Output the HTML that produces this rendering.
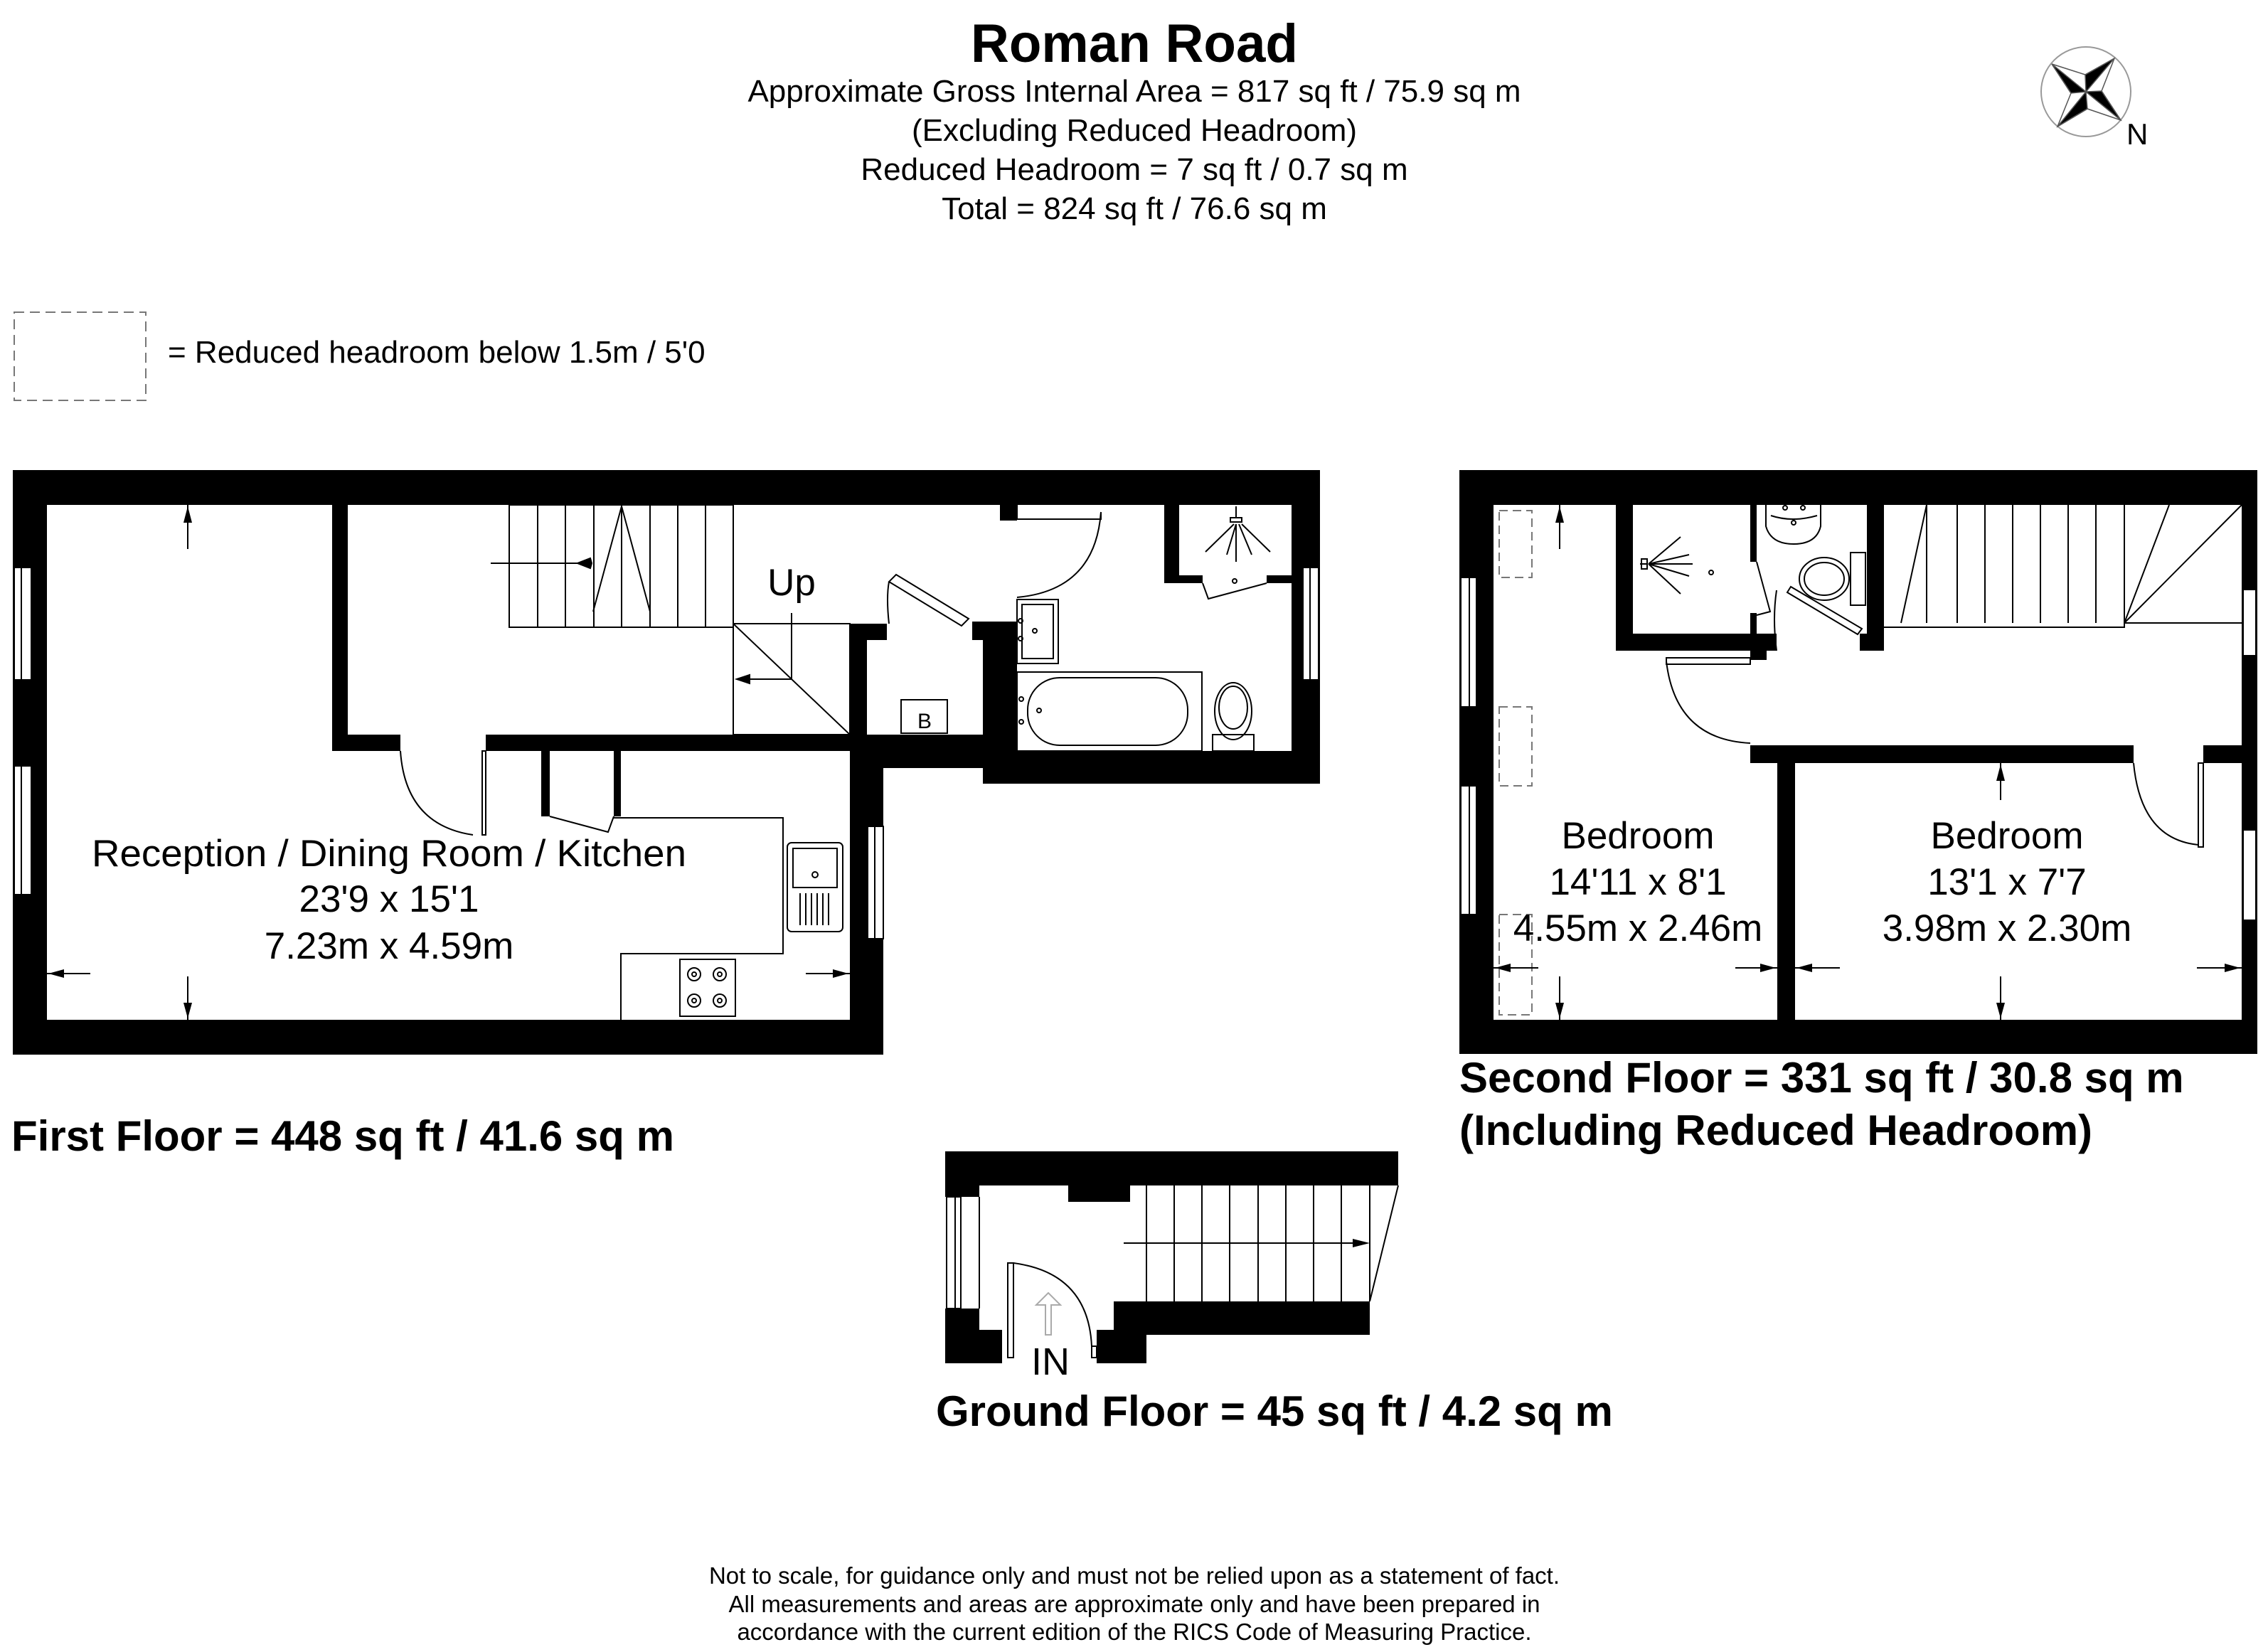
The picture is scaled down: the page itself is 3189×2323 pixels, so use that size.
<!DOCTYPE html>
<html><head><meta charset="utf-8"><style>html,body{margin:0;padding:0;background:#fff}svg{display:block}</style></head>
<body>
<svg xmlns="http://www.w3.org/2000/svg" width="3189" height="2323" viewBox="0 0 3189 2323" font-family="Liberation Sans, Arial, sans-serif">
<rect width="3189" height="2323" fill="#fff"/>
<!-- Header -->
<text x="1595" y="87" font-size="76" font-weight="bold" text-anchor="middle" textLength="460" lengthAdjust="spacingAndGlyphs">Roman Road</text>
<g font-size="44" text-anchor="middle">
<text x="1595" y="143">Approximate Gross Internal Area = 817 sq ft / 75.9 sq m</text>
<text x="1595" y="198">(Excluding Reduced Headroom)</text>
<text x="1595" y="253">Reduced Headroom = 7 sq ft / 0.7 sq m</text>
<text x="1595" y="308">Total = 824 sq ft / 76.6 sq m</text>
</g>
<!-- compass -->
<circle cx="2933" cy="129" r="63" fill="none" stroke="#999" stroke-width="2"/>
<g stroke="#555" stroke-width="1.5" fill="#000">
<polygon points="2885,90 2933,129 2912,131"/>
<polygon points="2973,82 2933,129 2932,105"/>
<polygon points="2982,169 2933,129 2955,128"/>
<polygon points="2893,178 2933,129 2935,153"/>
<polyline fill="none" points="2885,90 2932,105 2973,82 2955,128 2982,169 2935,153 2893,178 2912,131 2885,90"/>
</g>
<text x="2990" y="203" font-size="42">N</text>
<!-- legend -->
<rect x="20" y="439" width="185" height="124" fill="none" stroke="#777" stroke-width="2" stroke-dasharray="14,8"/>
<text x="236" y="510" font-size="44">= Reduced headroom below 1.5m / 5'0</text>

<!-- FIRST FLOOR -->
<g fill="#000">
<rect x="18" y="661" width="1838" height="49"/>
<rect x="18" y="661" width="48" height="822"/>
<rect x="18" y="1434" width="1224" height="49"/>
<rect x="1195" y="1056" width="47" height="427"/>
<rect x="1816" y="661" width="40" height="441"/>
<rect x="1382" y="1056" width="474" height="46"/>
<rect x="1195" y="1056" width="240" height="24"/>
<rect x="467" y="1033" width="96" height="23"/>
<rect x="683" y="1033" width="747" height="23"/>
<rect x="467" y="710" width="22" height="346"/>
<rect x="1195" y="877" width="24" height="156"/>
<rect x="1195" y="877" width="52" height="23"/>
<rect x="1382" y="900" width="48" height="156"/>
<rect x="1367" y="874" width="63" height="26"/>
<rect x="1406" y="710" width="24" height="22"/>
<rect x="1637" y="710" width="21" height="110"/>
<rect x="1637" y="809" width="54" height="11"/>
<rect x="1781" y="809" width="35" height="11"/>
<rect x="761" y="1056" width="12" height="92"/>
<rect x="863" y="1056" width="10" height="92"/>
</g>
<g fill="#fff" stroke="#000" stroke-width="2">
<rect x="20" y="798" width="24" height="158"/>
<rect x="20" y="1077" width="24" height="181"/>
<rect x="1220" y="1162" width="22" height="158"/>
<rect x="1832" y="798" width="22" height="158"/>
</g>
<g stroke="#000" stroke-width="2" fill="none">
<line x1="30" y1="798" x2="30" y2="956"/><line x1="30" y1="1077" x2="30" y2="1258"/>
<line x1="1230" y1="1162" x2="1230" y2="1320"/><line x1="1842" y1="798" x2="1842" y2="956"/>
<rect x="716" y="710" width="315" height="172"/>
<path d="M756 710V882M795 710V882M835 710V882M874 710V882M914 710V882M953 710V882M992 710V882"/>
<path d="M834 860L874 712L914 860"/>
<path d="M690 792H830"/><polygon points="830,785 832,792 830,799 812,792" fill="#000"/>
<rect x="1031" y="877" width="164" height="156"/>
<line x1="1031" y1="877" x2="1195" y2="1033"/>
<path d="M1113 862V955H1040"/><polygon points="1036,955 1054,949 1054,961" fill="#000"/>
<path d="M563 1056Q570 1160 665 1174"/><rect x="678" y="1056" width="5" height="118"/>
<path d="M773 1148L855 1170L863 1148"/>
<path d="M863 1150H1101V1341H873V1434"/>
<rect x="1107" y="1185" width="78" height="125" rx="6"/>
<rect x="1115" y="1193" width="62" height="55"/>
<circle cx="1146" cy="1230" r="4"/>
<path d="M1125 1256v45M1133 1256v45M1141 1256v45M1149 1256v45M1157 1256v45M1165 1256v45"/>
<rect x="956" y="1349" width="78" height="80"/>
<circle cx="976" cy="1370" r="9"/><circle cx="1012" cy="1370" r="9"/><circle cx="976" cy="1407" r="9"/><circle cx="1012" cy="1407" r="9"/>
<circle cx="976" cy="1370" r="3"/><circle cx="1012" cy="1370" r="3"/><circle cx="976" cy="1407" r="3"/><circle cx="1012" cy="1407" r="3"/>
<path d="M1250 818L1352 880L1362 870L1260 808Z"/>
<path d="M1250 818Q1246 840 1250 877"/>
<path d="M1430 710V730H1548V720"/>
<path d="M1548 720Q1540 830 1430 840"/>
<rect x="1430" y="843" width="58" height="90"/><rect x="1437" y="850" width="44" height="76"/>
<circle cx="1435" cy="873" r="3"/><circle cx="1455" cy="887" r="3"/><circle cx="1435" cy="898" r="3"/>
<rect x="1430" y="945" width="260" height="111"/>
<rect x="1445" y="953" width="225" height="95" rx="45"/>
<circle cx="1436" cy="983" r="3"/><circle cx="1461" cy="999" r="3"/><circle cx="1436" cy="1015" r="3"/>
<ellipse cx="1734" cy="1000" rx="26" ry="40"/><ellipse cx="1734" cy="995" rx="20" ry="30"/>
<rect x="1705" y="1033" width="58" height="23"/>
<path d="M1691 820L1699 842L1781 820"/>
<path d="M1738 712v16M1730 728h16v6h-16z"/>
<path d="M1735 737L1695 776M1738 737L1725 780M1742 737L1760 780M1746 737L1786 776M1738 737V790"/>
<circle cx="1736" cy="817" r="3"/>
<rect x="1267" y="984" width="65" height="47"/>
<path d="M264 710V772M264 1373V1434M66 1369H127M1133 1369H1195"/>
</g>
<g fill="#000">
<polygon points="264,712 258,735 270,735"/><polygon points="264,1432 258,1410 270,1410"/>
<polygon points="68,1369 90,1363 90,1375"/><polygon points="1193,1369 1171,1363 1171,1375"/>
</g>
<text x="1300" y="1024" font-size="30" text-anchor="middle">B</text>
<text x="1113" y="837" font-size="53" text-anchor="middle">Up</text>
<g font-size="53" text-anchor="middle">
<text x="547" y="1218" textLength="836" lengthAdjust="spacingAndGlyphs">Reception / Dining Room / Kitchen</text>
<text x="547" y="1282">23'9 x 15'1</text>
<text x="547" y="1348">7.23m x 4.59m</text>
</g>
<text x="16" y="1618" font-size="60" font-weight="bold">First Floor = 448 sq ft / 41.6 sq m</text>

<!-- SECOND FLOOR -->
<g fill="#000">
<rect x="2052" y="661" width="1122" height="49"/>
<rect x="2052" y="661" width="48" height="821"/>
<rect x="2052" y="1434" width="1122" height="48"/>
<rect x="3152" y="661" width="22" height="821"/>
<rect x="2272" y="710" width="24" height="205"/>
<rect x="2272" y="891" width="226" height="24"/>
<rect x="2461" y="710" width="9" height="80"/>
<rect x="2461" y="862" width="9" height="30"/>
<rect x="2625" y="710" width="24" height="205"/>
<rect x="2615" y="891" width="34" height="24"/>
<rect x="2461" y="915" width="23" height="13"/>
<rect x="2461" y="1048" width="539" height="25"/>
<rect x="3098" y="1048" width="54" height="25"/>
<rect x="2499" y="1073" width="25" height="361"/>
</g>
<g fill="#fff" stroke="#000" stroke-width="2">
<rect x="2054" y="812" width="22" height="182"/><rect x="2054" y="1105" width="22" height="181"/>
<rect x="3154" y="829" width="18" height="93"/><rect x="3154" y="1167" width="18" height="127"/>
</g>
<g stroke="#000" stroke-width="2" fill="none">
<line x1="2066" y1="812" x2="2066" y2="994"/><line x1="2066" y1="1105" x2="2066" y2="1286"/>
<g stroke="#777" stroke-dasharray="12,7">
<rect x="2108" y="718" width="46" height="94"/>
<rect x="2108" y="994" width="46" height="111"/>
<rect x="2108" y="1286" width="46" height="141"/>
</g>
<path d="M2649 882H2987V876H3152"/>
<path d="M2709 710L2673 876M2709 710V876M2752 710V876M2791 710V876M2830 710V876M2869 710V876M2908 710V876M2947 710V876M2987 710V876M2987 876L3050 710M2987 876L3152 710"/>
<path d="M2306 793h10M2308 786h8v14h-8z"/>
<path d="M2318 793L2363 755M2318 793L2375 780M2318 793H2380M2318 793L2375 810M2318 793L2363 835"/>
<circle cx="2406" cy="805" r="3"/>
<path d="M2483 710V740Q2490 765 2522 765Q2554 765 2560 740V710"/>
<path d="M2490 725Q2520 735 2555 725"/>
<circle cx="2510" cy="714" r="3"/><circle cx="2535" cy="714" r="3"/><circle cx="2522" cy="735" r="3"/>
<ellipse cx="2565" cy="814" rx="35" ry="30"/><ellipse cx="2565" cy="814" rx="28" ry="23"/>
<rect x="2602" y="777" width="21" height="74"/>
<path d="M2470 790L2489 860L2470 865"/>
<path d="M2513 833L2612 892L2618 884L2518 825Z"/>
<path d="M2498 830Q2492 870 2498 915"/>
<rect x="2343" y="925" width="118" height="9"/>
<path d="M2343 930Q2356 1040 2461 1045"/>
<rect x="3091" y="1073" width="7" height="118"/>
<path d="M3000 1073Q3010 1180 3091 1188"/>
<path d="M2193 710V772M2193 1373V1434M2100 1361H2163M2440 1361H2499M2524 1361H2587M3089 1361H3152M2813 1073V1125M2813 1373V1434"/>
</g>
<g fill="#000">
<polygon points="2193,712 2187,735 2199,735"/><polygon points="2193,1432 2187,1410 2199,1410"/>
<polygon points="2102,1361 2124,1355 2124,1367"/><polygon points="2497,1361 2475,1355 2475,1367"/>
<polygon points="2526,1361 2548,1355 2548,1367"/><polygon points="3150,1361 3128,1355 3128,1367"/>
<polygon points="2813,1075 2807,1098 2819,1098"/><polygon points="2813,1432 2807,1410 2819,1410"/>
</g>
<g font-size="53" text-anchor="middle">
<text x="2303" y="1193">Bedroom</text><text x="2303" y="1258">14'11 x 8'1</text><text x="2303" y="1323">4.55m x 2.46m</text>
<text x="2822" y="1193">Bedroom</text><text x="2822" y="1258">13'1 x 7'7</text><text x="2822" y="1323">3.98m x 2.30m</text>
</g>
<g font-size="60" font-weight="bold">
<text x="2052" y="1536">Second Floor = 331 sq ft / 30.8 sq m</text>
<text x="2052" y="1610">(Including Reduced Headroom)</text>
</g>

<!-- GROUND FLOOR -->
<g fill="#000">
<rect x="1329" y="1619" width="637" height="48"/>
<rect x="1329" y="1619" width="48" height="64"/>
<rect x="1329" y="1840" width="48" height="77"/>
<rect x="1329" y="1870" width="80" height="47"/>
<rect x="1542" y="1870" width="70" height="47"/>
<rect x="1566" y="1830" width="360" height="47"/>
<rect x="1502" y="1667" width="87" height="23"/>
</g>
<g stroke="#000" stroke-width="2" fill="none">
<rect x="1331" y="1683" width="20" height="157" fill="#fff"/>
<line x1="1343" y1="1683" x2="1343" y2="1840"/>
<path d="M1377 1683V1840"/>
<path d="M1612 1667V1830M1651 1667V1830M1690 1667V1830M1729 1667V1830M1769 1667V1830M1808 1667V1830M1847 1667V1830M1886 1667V1830M1926 1667V1830"/>
<path d="M1966 1667L1926 1830"/>
<path d="M1580 1748H1920"/>
<rect x="1417" y="1776" width="8" height="133"/>
<path d="M1425 1776Q1530 1790 1535 1893"/>
<rect x="1535" y="1893" width="7" height="16"/>
</g>
<polygon points="1926,1748 1902,1742 1902,1754" fill="#000"/>
<path d="M1478 1877V1835H1491L1474 1818L1457 1835H1470V1877Z" fill="none" stroke="#aaa" stroke-width="2"/>
<text x="1450" y="1933" font-size="54">IN</text>
<text x="1316" y="2005" font-size="60" font-weight="bold">Ground Floor = 45 sq ft / 4.2 sq m</text>

<!-- footer -->
<g font-size="33" text-anchor="middle">
<text x="1595" y="2227">Not to scale, for guidance only and must not be relied upon as a statement of fact.</text>
<text x="1595" y="2267">All measurements and areas are approximate only and have been prepared in</text>
<text x="1595" y="2306">accordance with the current edition of the RICS Code of Measuring Practice.</text>
</g>
</svg>
</body></html>
